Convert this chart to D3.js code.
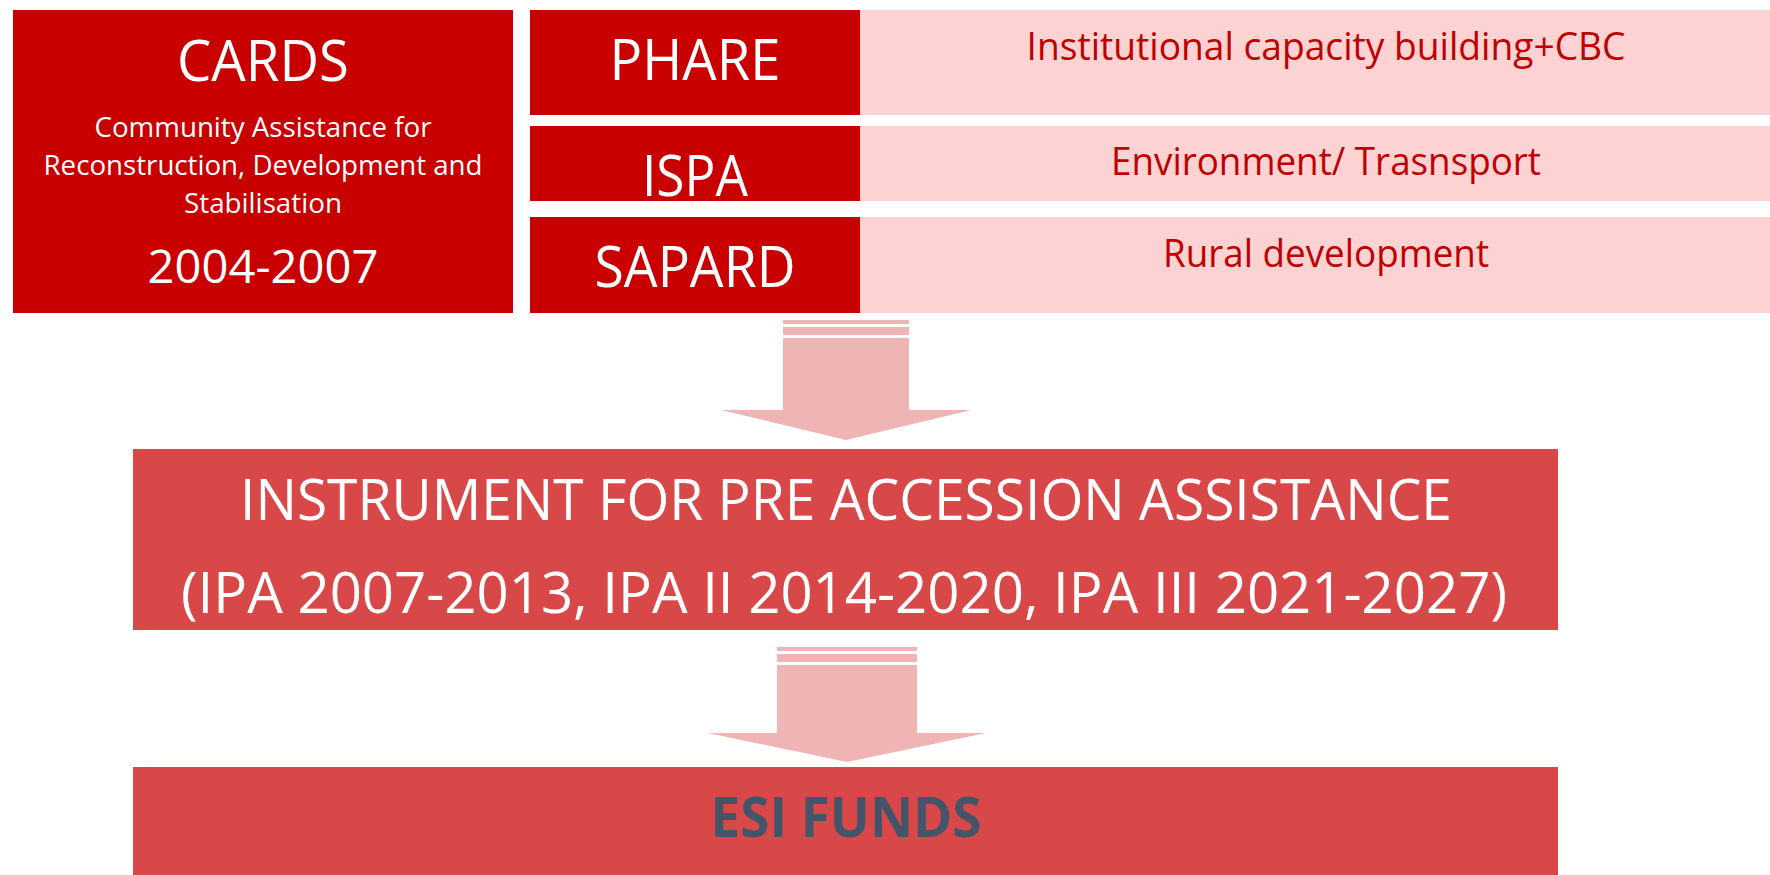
<!DOCTYPE html>
<html lang="en">
<head>
    <meta charset="UTF-8">
    <title>EU pre-accession instruments</title>
    <script src="https://d3js.org/d3.v7.min.js"></script>
    <style>
        body { margin: 0; background: #fff; }
        text { font-family: "Open Sans", sans-serif; }
    </style>
</head>
<body>
<script>
// diagram content
const cardsTitle = "CARDS";
const cardsLines = ["Community Assistance for", "Reconstruction, Development and", "Stabilisation"];
const cardsPeriod = "2004-2007";
const programmes = ["PHARE", "ISPA", "SAPARD"];
const programmeFocus = ["Institutional capacity building+CBC", "Environment/ Trasnsport", "Rural development"];
const ipaLines = ["INSTRUMENT FOR PRE ACCESSION ASSISTANCE", "(IPA 2007-2013, IPA II 2014-2020, IPA III 2021-2027)"];
const esiLabel = "ESI FUNDS";

const W = 1770, H = 875;
const dark = "#c80000", pink = "#fdd2d2", mid = "#d94848", arrowFill = "#efb4b4";

// layout
const rows = [[10, 115], [126, 201], [217, 313]];
const progTextW = [171, 106, 201];
const progBase = [80, 196, 287];
const focusW = [599, 430, 326];
const focusBase = [60, 175, 267];

const svg = d3.select("body").append("svg")
    .attr("width", W)
    .attr("height", H);

function label(text, x, y, size, width, fill, weight) {
    const t = svg.append("text")
        .attr("x", x).attr("y", y)
        .attr("text-anchor", "middle")
        .attr("fill", fill)
        .style("font-size", size + "px")
        .style("font-weight", weight || 400)
        .text(text);
    if (width) t.attr("textLength", width).attr("lengthAdjust", "spacingAndGlyphs");
    return t;
}

// CARDS block
svg.append("rect").attr("x", 13).attr("y", 10).attr("width", 500).attr("height", 303).attr("fill", dark);
label(cardsTitle, 263, 81, 57, 172, "#fff");
const lineW = [337, 439, 158];
cardsLines.forEach((l, i) => label(l, 263, 137 + i * 38, 28, lineW[i], "#fff"));
label(cardsPeriod, 263, 283, 46, 231, "#fff");

// programme rows
const y = d3.scaleOrdinal().domain(programmes).range(rows);
programmes.forEach((p, i) => {
    const [y0, y1] = y(p);
    svg.append("rect").attr("x", 860).attr("y", y0).attr("width", W - 860).attr("height", y1 - y0).attr("fill", pink);
    svg.append("rect").attr("x", 530).attr("y", y0).attr("width", 330).attr("height", y1 - y0).attr("fill", dark);
    label(p, 695, progBase[i], 57, progTextW[i], "#fff");
    label(programmeFocus[i], 1326, focusBase[i], 37.5, focusW[i], "#c00000");
});

// arrows
function arrow(x0, x1, hx0, hx1, s1, s2, top, neck, tip) {
    const cx = (hx0 + hx1) / 2;
    svg.append("rect").attr("x", x0).attr("y", s1[0]).attr("width", x1 - x0).attr("height", s1[1] - s1[0]).attr("fill", arrowFill);
    svg.append("rect").attr("x", x0).attr("y", s2[0]).attr("width", x1 - x0).attr("height", s2[1] - s2[0]).attr("fill", arrowFill);
    svg.append("path")
        .attr("d", d3.line()([[x0, top], [x1, top], [x1, neck], [hx1, neck], [cx, tip], [hx0, neck], [x0, neck]]) + "Z")
        .attr("fill", arrowFill);
}
arrow(783, 909, 721, 971, [320, 324], [327, 335], 338, 410, 440);
arrow(777, 917, 708, 986, [647, 651], [654, 662], 665, 733, 762);

// IPA block
svg.append("rect").attr("x", 133).attr("y", 449).attr("width", 1425).attr("height", 181).attr("fill", mid);
label(ipaLines[0], 846, 520, 56, 1212, "#fff");
label(ipaLines[1], 844, 613, 56, 1326, "#fff");

// ESI block
svg.append("rect").attr("x", 133).attr("y", 767).attr("width", 1425).attr("height", H - 767).attr("fill", mid);
label(esiLabel, 846, 837, 56, 271, "#44546a", 700);
</script>
</body>
</html>
